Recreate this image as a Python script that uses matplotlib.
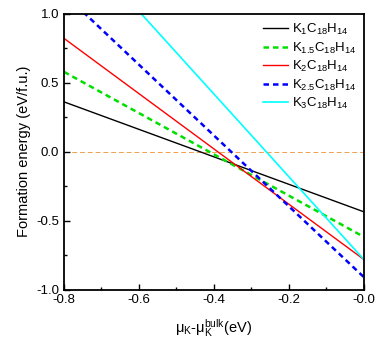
import matplotlib
matplotlib.use("Agg")
import matplotlib.pyplot as plt
import numpy as np

plt.rcParams["font.family"] = ["Liberation Sans", "DejaVu Sans"]
plt.rcParams["mathtext.default"] = "regular"

# chemical potential range (eV)
mu = [-0.8, 0.0]

# formation energy at the two ends of the range (eV/f.u.)
labels = [r"K$_1$C$_{18}$H$_{14}$", r"K$_{1.5}$C$_{18}$H$_{14}$",
          r"K$_2$C$_{18}$H$_{14}$", r"K$_{2.5}$C$_{18}$H$_{14}$",
          r"K$_3$C$_{18}$H$_{14}$"]
e_k1 = [0.362, -0.436]
e_k15 = [0.58, -0.618]
e_k2 = [0.823, -0.782]
e_k25 = [1.146, -0.91]
e_k3 = [1.62, -0.782]

colors = ["black", "#00e000", "red", "blue", "cyan"]
styles = ["-", "--", "-", "--", "-"]
widths = [1.0, 1.8, 1.0, 1.8, 1.2]

fig = plt.figure(figsize=(3.81, 3.41), dpi=100)
ax = fig.add_axes([0.168, 0.151, 0.787, 0.808])

ax.axhline(0, color="#f0a050", lw=0.7, ls=(0, (5, 3)), zorder=1)
for e, lab, c, ls, lw in zip([e_k1, e_k15, e_k2, e_k25, e_k3], labels,
                             colors, styles, widths):
    if ls == "--":
        ax.plot(mu, e, color=c, lw=lw, ls=(0, (2.2, 1.6)), label=lab)
    else:
        ax.plot(mu, e, color=c, lw=lw, ls=ls, label=lab)

ax.set_xlim(-0.8, 0.0)
ax.set_ylim(-1.0, 1.0)
ax.set_xticks(np.arange(-0.8, 0.01, 0.2))
ax.set_yticks([-1.0, -0.5, 0.0, 0.5, 1.0])
ax.set_xticks(np.arange(-0.7, 0.0, 0.2), minor=True)
ax.set_yticks([-0.75, -0.25, 0.25, 0.75], minor=True)
ax.xaxis.set_major_formatter(matplotlib.ticker.FormatStrFormatter("%.1f"))
ax.yaxis.set_major_formatter(matplotlib.ticker.FormatStrFormatter("%.1f"))
ax.tick_params(which="both", direction="in", labelsize=9.5, width=1.0)
ax.tick_params(which="major", length=4)
ax.tick_params(which="minor", length=2.5)
for s in ax.spines.values():
    s.set_linewidth(1.3)

ax.set_xlabel(r"$\mu_K$-$\mu_K^{bulk}$(eV)", fontsize=10.5, labelpad=8)
ax.set_ylabel("Formation energy (eV/f.u.)", fontsize=10.5, labelpad=4)

ax.legend(loc="upper right", bbox_to_anchor=(1.0, 1.0), frameon=False,
          fontsize=9.5, handlelength=1.9, handletextpad=0.3,
          labelspacing=0.26, borderaxespad=0.2)

fig.savefig("out.png", dpi=100)
